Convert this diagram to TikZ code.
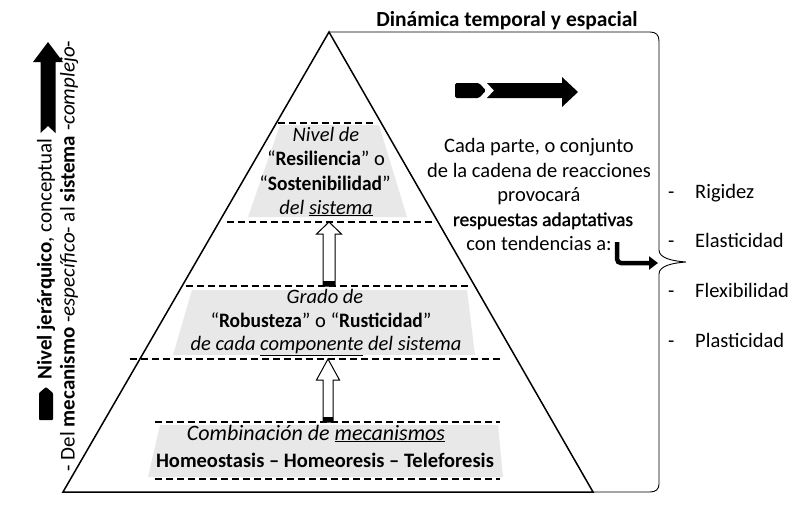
\documentclass[tikz,border=0pt]{standalone}
\usepackage{fontspec}
\setmainfont{Carlito}
\newfontfamily\semib[FakeBold=1.2]{Carlito}
\newfontfamily\condb[FakeStretch=0.95]{Carlito}
\usetikzlibrary{arrows.meta,calc}
\definecolor{bandgray}{HTML}{E8E8E8}
\newcommand{\cb}[1]{{\condb\bfseries #1}}
\begin{document}
\begin{tikzpicture}[x=1pt,y=-1pt,
  pyr/.style={line width=1.5pt, line join=miter},
  dline/.style={line width=1.2pt, dash pattern=on 6.5pt off 4.5pt},
  band/.style={fill=bandgray, draw=none},
  bl/.style={font=\fontsize{20.5}{24}\selectfont, anchor=base, inner sep=0pt},
  sidetxt/.style={font=\fontsize{20.5}{24}\selectfont, anchor=base, inner sep=0pt},
  listtxt/.style={font=\fontsize{20.5}{24}\selectfont, anchor=base west, inner sep=0pt},
  vtxt/.style={rotate=90, font=\fontsize{21}{24}\selectfont, inner sep=0pt},
  hollow/.style={draw=black, fill=white, line width=1pt, line join=miter},
  bracel/.style={line width=0.9pt},
  bentarrow/.style={line width=4.5pt, rounded corners=4pt, -{Triangle[length=9pt,width=13pt]}},
]
\useasboundingbox (0,0) rectangle (806,506);

% key points
\coordinate (apex) at (329,32);
\coordinate (baseL) at (63,492);
\coordinate (baseR) at (593,492);

% gray bands
\fill[band] (280,125) -- (379,125) -- (407,217) -- (248,217) -- cycle;
\fill[band] (192,290) -- (467,290) -- (475,355) -- (173,355) -- cycle;
\fill[band] (160,425) -- (498,425) -- (503,477) -- (148,477) -- cycle;

% dashed separators
\draw[dline] (278,123) -- (377,123);
\draw[dline] (227,222) -- (433,222);
\draw[dline] (186,286) -- (468,286);
\draw[dline] (130,359) -- (500,359);
\draw[dline] (155,422) -- (500,422);
\draw[dline] (155,479) -- (500,479);

% pyramid
\draw[pyr] (apex) -- (baseL) -- (baseR) -- cycle;

% brace
\coordinate (bracetip) at (686,262);
\draw[bracel] (apex) -- (650,32) .. controls (656,32) and (659,35) .. (659,41)
  -- (659,250) .. controls (659,258) and (672,261) .. (bracetip)
  .. controls (672,263) and (659,266) .. (659,274)
  -- (659,484) .. controls (659,489) and (656,492) .. (650,492) -- (baseR);

% hollow arrows
\coordinate (a1tip) at (329,222); \coordinate (a1base) at (329,286);
\draw[hollow] ($(a1base)+(-6,0)$) -- ($(a1tip)+(-6,12)$) -- ($(a1tip)+(-12.5,12)$) -- (a1tip)
  -- ($(a1tip)+(12.5,12)$) -- ($(a1tip)+(6,12)$) -- ($(a1base)+(6,0)$) -- cycle;
\fill ($(a1base)+(-6,-5)$) rectangle ($(a1base)+(6,0)$);
\coordinate (a2tip) at (328,359); \coordinate (a2base) at (328,422);
\draw[hollow] ($(a2base)+(-5,0)$) -- ($(a2tip)+(-5,21)$) -- ($(a2tip)+(-11.5,21)$) -- (a2tip)
  -- ($(a2tip)+(11.5,21)$) -- ($(a2tip)+(5,21)$) -- ($(a2base)+(5,0)$) -- cycle;
\fill ($(a2base)+(-5,-5)$) rectangle ($(a2base)+(5,0)$);

% pyramid texts: top band
\node[bl] (t1) at (326,141) {\textit{Nivel de}};
\node[bl] (t2) at (326,165) {“\cb{Resiliencia}” o};
\node[bl] (t3) at (325,190) {“\cb{Sostenibilidad}”};
\node[bl] (t4) at (326,214) {\textit{del \underline{sistema}}};
% middle band
\node[bl] (m1) at (325,303) {\textit{Grado de}};
\node[bl] (m2) at (321,327) {“\cb{Robusteza}” o “\cb{Rusticidad}”};
\node[bl] (m3) at (326,350) {\textit{de cada \underline{componente} del sistema}};
% bottom band
\node[bl, font=\fontsize{22}{24}\selectfont] (b1) at (316,440) {\textit{Combinación de \underline{mecanismos}}};
\node[bl] (b2) at (325,467) {\textbf{Homeostasis – Homeoresis – Teleforesis}};

% title
\node[font=\bfseries\fontsize{21.5}{24}\selectfont, inner sep=0pt, anchor=base] (title) at (507,26) {Dinámica temporal y espacial};

% top-right black arrow
\fill[rounded corners=1.5pt] (455,83) -- (479,83) -- (486,90.5) -- (479,98) -- (455,98) -- cycle;
\fill (487,83) -- (562,83) -- (562,77) -- (578,92) -- (562,107) -- (562,98) -- (487,98) -- (494,90.5) -- cycle;

% side text
\node[sidetxt] (s1) at (539,152) {Cada parte, o conjunto};
\node[sidetxt] (s2) at (539,177) {de la cadena de reacciones};
\node[sidetxt] (s3) at (539,201) {provocará};
\node[sidetxt] (s4) at (543,226) {\semib\fontsize{19.5}{24}\selectfont respuestas adaptativas};
\node[sidetxt] (s5) at (539,250) {con tendencias a:};
\coordinate (bentstart) at (617,242);
\coordinate (bentend) at (658,263);
\draw[bentarrow] (bentstart) |- (bentend);

% list
\node[listtxt] (d1) at (668,198) {-}; \node[listtxt] (l1) at (695,198) {Rigidez};
\node[listtxt] (d2) at (668,247) {-}; \node[listtxt] (l2) at (695,247) {Elasticidad};
\node[listtxt] (d3) at (668,297) {-}; \node[listtxt] (l3) at (695,297) {Flexibilidad};
\node[listtxt] (d4) at (668,347) {-}; \node[listtxt] (l4) at (695,347) {Plasticidad};

% left vertical arrow and texts
\fill (48,42) -- (63,62) -- (55.5,62) -- (55.5,133) -- (48,126) -- (40.5,133) -- (40.5,62) -- (33,62) -- cycle;
\fill[rounded corners=1pt] (46,387) -- (53,393) -- (53,420) -- (39,420) -- (39,393) -- cycle;
\node[vtxt] (lvl) at (46,259) {\textbf{Nivel jerárquico}, conceptual};
\node[vtxt] (mec) at (69,256) {- Del \textbf{mecanismo} -\textit{específico}- al \textbf{sistema} -\textit{complejo}-};
\end{tikzpicture}
\end{document}
